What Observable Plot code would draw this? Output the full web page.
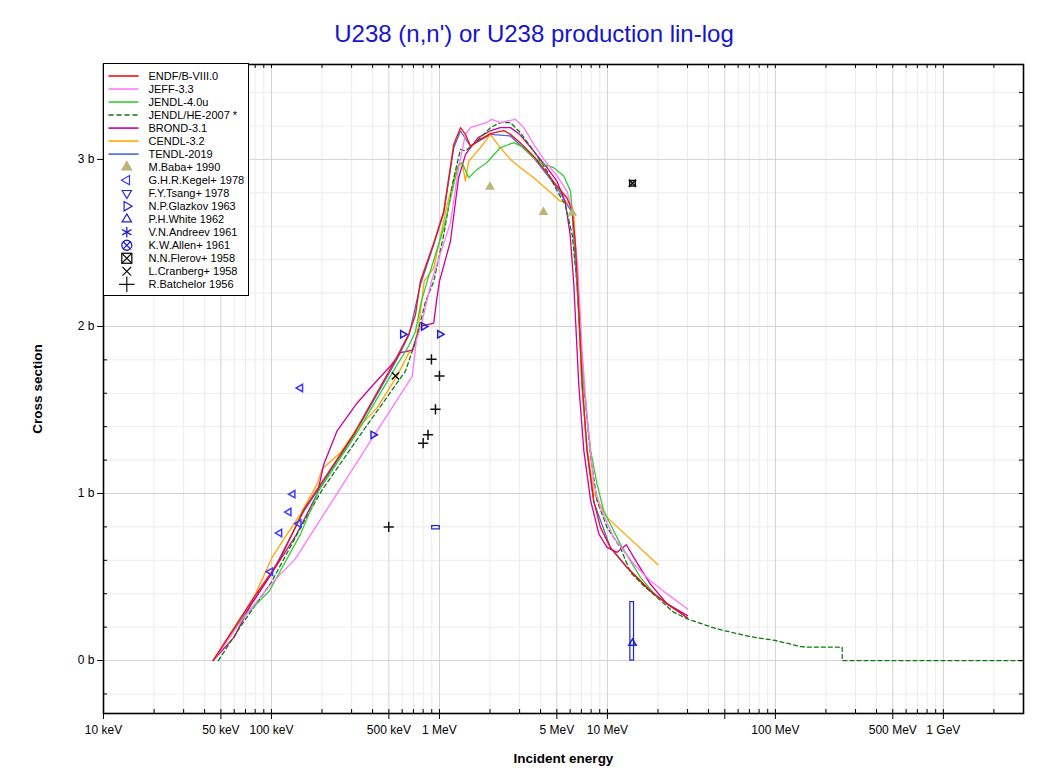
<!DOCTYPE html>
<html><head><meta charset="utf-8">
<script src="https://cdn.jsdelivr.net/npm/d3@7"></script>
<script src="https://cdn.jsdelivr.net/npm/@observablehq/plot@0.6"></script>
<style>
body{margin:0;background:#fff;font-family:"Liberation Sans",Arial,sans-serif;}
#wrap{position:relative;width:1053px;height:774px;}
#title{position:absolute;left:0;top:19px;width:1068px;text-align:center;font-size:24px;color:#1414cc;line-height:30px;font-family:"Liberation Sans",Arial,sans-serif;}
#chart{position:absolute;left:0;top:0;}
</style></head><body>
<div id="wrap"><div id="chart"></div><div id="title">U238 (n,n') or U238 production lin-log</div></div>
<script>
// ---- axis ticks ----
const xTickVals = [1e4,5e4,1e5,5e5,1e6,5e6,1e7,1e8,5e8,1e9];
const xTickLabels = ["10 keV","50 keV","100 keV","500 keV","1 MeV","5 MeV","10 MeV","100 MeV","500 MeV","1 GeV"];
const yTickVals = [0,1,2,3];
const yTickLabels = ["0 b","1 b","2 b","3 b"];

// ---- evaluated data: [energy (eV), cross section (b)] ----
const endf = [[44900,0],[78600,0.378],[100000,0.53],[113000,0.61],[155000,0.90],[309000,1.355],[547000,1.80],[656000,1.953],[720000,2.07],[770000,2.27],[925000,2.50],[1061000,2.69],[1217000,3.09],[1334000,3.19],[1428000,3.15],[1530000,3.078],[1754000,3.12],[2012000,3.154],[2415000,3.172],[2647000,3.15],[3035000,3.098],[3640000,3.019],[4375000,2.919],[5020000,2.839],[5750000,2.769],[6170000,2.69],[6450000,2.49],[6750000,2.10],[7070000,1.654],[7570000,1.255],[8290000,0.956],[9080000,0.797],[10420000,0.677],[13090000,0.558],[18000000,0.418],[22650000,0.339],[30000000,0.255]];
const jeff = [[44900,0],[70000,0.27],[100000,0.46],[139000,0.61],[413000,1.355],[688000,1.70],[730000,1.92],[780000,2.01],[896000,2.27],[1000000,2.42],[1163000,2.62],[1300000,2.95],[1428000,3.15],[1530000,3.19],[1754000,3.21],[1910000,3.22],[2050000,3.24],[2300000,3.22],[2830000,3.24],[3180000,3.19],[3640000,3.09],[4190000,3.0],[5020000,2.9],[5750000,2.81],[6170000,2.69],[6660000,2.35],[7070000,1.853],[7570000,1.454],[8290000,1.055],[9080000,0.916],[10900000,0.737],[14340000,0.578],[18000000,0.478],[22650000,0.399],[30000000,0.309]];
const jendl4 = [[44900,0],[65400,0.239],[97300,0.418],[149000,0.757],[191000,1.016],[319000,1.355],[547000,1.753],[656000,1.883],[720000,1.97],[780000,2.15],[845000,2.27],[1061000,2.59],[1217000,2.85],[1300000,2.97],[1365000,2.98],[1494000,2.89],[1676000,2.94],[1910000,2.98],[2300000,3.07],[2770000,3.10],[3180000,3.07],[3640000,3.01],[4190000,2.97],[4790000,2.95],[5500000,2.90],[6030000,2.81],[6170000,2.69],[6450000,2.45],[6750000,2.05],[7230000,1.65],[7950000,1.255],[8680000,1.056],[9500000,0.897],[11940000,0.697],[15710000,0.498],[20000000,0.375]];
const jendlhe = [[48300,0],[65000,0.2],[100000,0.47],[150000,0.80],[200000,1.02],[340000,1.355],[628000,1.733],[720000,1.91],[827000,2.15],[925000,2.27],[1061000,2.55],[1217000,2.89],[1334000,3.06],[1428000,3.05],[1676000,3.11],[2012000,3.19],[2300000,3.22],[2647000,3.22],[3035000,3.16],[3640000,3.05],[4375000,2.93],[5020000,2.81],[5600000,2.73],[6170000,2.55],[6600000,2.25],[6900000,1.95],[7230000,1.654],[7950000,1.215],[8680000,0.956],[9950000,0.797],[11940000,0.677],[13700000,0.528],[16440000,0.448],[20200000,0.369],[24800000,0.289],[30000000,0.249],[45000000,0.189],[71000000,0.143],[100000000,0.12],[141000000,0.084],[155000000,0.08],[250000000,0.08],[250000001,0],[3000000000,0]];
const brond = [[44900,0],[60000,0.14],[75000,0.33],[100000,0.52],[140000,0.75],[187000,0.996],[205000,1.175],[246000,1.375],[319000,1.534],[406000,1.654],[511000,1.763],[585000,1.843],[656000,1.853],[690000,1.86],[770000,2.0],[925000,2.02],[960000,2.15],[1000000,2.27],[1163000,2.51],[1300000,2.89],[1430000,3.03],[1700000,3.13],[2000000,3.17],[2300000,3.19],[2650000,3.19],[3000000,3.15],[3640000,3.05],[4375000,2.95],[5000000,2.87],[5600000,2.75],[6000000,2.55],[6310000,2.25],[6750000,1.654],[7240000,1.255],[7950000,0.956],[8900000,0.757],[9950000,0.677],[11420000,0.648],[12970000,0.693],[14340000,0.618],[18000000,0.458],[22650000,0.339],[30000000,0.269]];
const cendl = [[44900,0],[78600,0.378],[101000,0.618],[118400,0.727],[149000,0.877],[187000,1.056],[200000,1.146],[258000,1.245],[316000,1.375],[426000,1.514],[560000,1.704],[656000,1.84],[700000,1.86],[753000,2.01],[784000,2.15],[810000,2.27],[925000,2.35],[1100000,2.71],[1270000,2.95],[1365000,2.98],[1428000,2.87],[1494000,2.99],[1754000,3.07],[2012000,3.15],[2300000,3.07],[2647000,3.0],[3035000,2.95],[3640000,2.89],[4375000,2.82],[5250000,2.75],[6030000,2.74],[6300000,2.69],[6600000,2.3],[7000000,1.7],[7500000,1.3],[8300000,1.0],[9950000,0.857],[20000000,0.574]];
const tendl = [[44900,0],[80000,0.37],[100000,0.52],[155000,0.89],[310000,1.35],[550000,1.79],[660000,1.95],[770000,2.25],[925000,2.49],[1061000,2.68],[1217000,3.07],[1334000,3.17],[1530000,3.08],[2012000,3.15],[2647000,3.14],[3640000,3.01],[5020000,2.83],[6170000,2.68],[6750000,2.10],[7070000,1.65],[7570000,1.25],[8290000,0.95],[10420000,0.675],[13090000,0.555],[18000000,0.415],[30000000,0.255]];

// ---- experimental data: [energy (eV), cross section (b)] ----
const baba = [[2000000,2.835],[4160000,2.684],[6170000,2.68]];
const kegel = [[98600,0.532],[111700,0.763],[126800,0.889],[133900,0.996],[145400,0.82],[148700,1.632]];
const glazkov = [[403000,1.351],[605000,1.953],[807000,2.0],[1005000,1.953]];
const white = [[14100000,0.104]];
const flerov = [[14100000,2.857]];
const cranberg = [[547000,1.704]];
const batchelor = [[499000,0.80],[800000,1.301],[855000,1.351],[896000,1.803],[947000,1.504],[1000000,1.704]];
// error boxes: [E low, E high, sigma low, sigma high]
const errBoxes = [[13700000,14400000,0,0.35],[905000,1004000,0.785,0.805]];

// ---- legend ----
const legendNames = ["ENDF/B-VIII.0","JEFF-3.3","JENDL-4.0u","JENDL/HE-2007 *","BROND-3.1","CENDL-3.2","TENDL-2019","M.Baba+ 1990","G.H.R.Kegel+ 1978","F.Y.Tsang+ 1978","N.P.Glazkov 1963","P.H.White 1962","V.N.Andreev 1961","K.W.Allen+ 1961","N.N.Flerov+ 1958","L.Cranberg+ 1958","R.Batchelor 1956"];
const legendColors = ["#ee1111","#ff77ff","#33cc33","#117711","#cc0099","#ffa500","#4169e1","#bbb477","#3a3aff","#2a2add","#2222cc","#2222cc","#2222cc","#2222cc","#111111","#111111","#111111"];

const series = [
  {data: tendl, color: legendColors[6]},
  {data: cendl, color: legendColors[5]},
  {data: brond, color: legendColors[4]},
  {data: jendlhe, color: legendColors[3], dash: "4,3"},
  {data: jendl4, color: legendColors[2]},
  {data: jeff, color: legendColors[1]},
  {data: endf, color: legendColors[0]}
];

// tick/grid helpers
const minorX = [];
for (let n = 4; n <= 9; n++) for (let k = 1; k <= 9; k++) { const v = k * 10 ** n; if (v <= 3e9) minorX.push(v); }
const isMajorX = v => { const k = Math.round(v / 10 ** Math.floor(Math.log10(v) + 1e-9)); return k === 1 || k === 5; };
const gridXMajor = minorX.filter(isMajorX);
const gridXMinor = minorX.filter(v => !isMajorX(v));
const minorY = d3.range(-1, 18).map(i => i / 5);
const gridYMinor = minorY.filter(v => Math.abs(v - Math.round(v)) > 1e-9);
const xLabels = xTickVals.map((v, i) => ({v, label: xTickLabels[i]}));
const yLabels = yTickVals.map((v, i) => ({v, label: yTickLabels[i]}));

const FH = 713 - 64, FW = 1023 - 103;
const font = "Liberation Sans, Arial, sans-serif";

const marks = [
  Plot.gridX(gridXMinor, {stroke: "#ececec", strokeOpacity: 1}),
  Plot.gridY(gridYMinor, {stroke: "#ececec", strokeOpacity: 1}),
  Plot.gridX(gridXMajor, {stroke: "#d2d2d2", strokeOpacity: 1}),
  Plot.gridY(yTickVals, {stroke: "#d2d2d2", strokeOpacity: 1}),
  ...series.map(s => Plot.line(s.data, {x: d => d[0], y: d => d[1], stroke: s.color, strokeWidth: 1.3, strokeDasharray: s.dash || null})),
  Plot.rect(errBoxes, {x1: d => d[0], x2: d => d[1], y1: d => d[2], y2: d => d[3], fill: "none", stroke: "#2222cc", strokeWidth: 1.2}),
  Plot.dot(baba, {x: d => d[0], y: d => d[1], symbol: "triangle", fill: legendColors[7], r: 3.6}),
  Plot.dot(kegel, {x: d => d[0], y: d => d[1], symbol: "triangle2", stroke: legendColors[8], fill: "none", r: 3.5, rotate: -90}),
  Plot.dot(glazkov, {x: d => d[0], y: d => d[1], symbol: "triangle2", stroke: legendColors[10], fill: "none", r: 3.5, rotate: 90}),
  Plot.dot(white, {x: d => d[0], y: d => d[1], symbol: "triangle2", stroke: legendColors[11], fill: "none", r: 3.5}),
  Plot.dot(flerov, {x: d => d[0], y: d => d[1], symbol: "square2", stroke: "#111", fill: "none", r: 3.6}),
  Plot.dot(flerov, {x: d => d[0], y: d => d[1], symbol: "times", stroke: "#111", r: 3.4}),
  Plot.dot(cranberg, {x: d => d[0], y: d => d[1], symbol: "times", stroke: "#111", r: 3.4}),
  Plot.dot(batchelor, {x: d => d[0], y: d => d[1], symbol: "plus", stroke: "#111", r: 3.4}),
  // ticks
  Plot.tickX(gridXMinor, {x: d => d, stroke: "#000", insetTop: FH - 4}),
  Plot.tickX(gridXMajor, {x: d => d, stroke: "#000", insetTop: FH - 4, insetBottom: -6}),
  Plot.tickX(minorX, {x: d => d, stroke: "#000", insetBottom: FH - 4}),
  Plot.tickY(gridYMinor, {y: d => d, stroke: "#000", insetRight: FW - 4}),
  Plot.tickY(yTickVals, {y: d => d, stroke: "#000", insetRight: FW, insetLeft: -6}),
  Plot.tickY(minorY, {y: d => d, stroke: "#000", insetLeft: FW - 4}),
  Plot.text(xLabels, {x: d => d.v, text: d => d.label, frameAnchor: "bottom", lineAnchor: "top", dy: 12, fontSize: 12, fill: "#000"}),
  Plot.text(yLabels, {y: d => d.v, text: d => d.label, frameAnchor: "left", textAnchor: "end", dx: -9, fontSize: 12, fill: "#000"}),
  Plot.frame({stroke: "#000", strokeWidth: 1.6}),
  Plot.text(["Incident energy"], {text: d => d, frameAnchor: "bottom", lineAnchor: "middle", textAnchor: "middle", dy: 45, fontWeight: "bold", fontSize: 13.5}),
  Plot.text(["Cross section"], {text: d => d, frameAnchor: "left", lineAnchor: "middle", textAnchor: "middle", dx: -66, rotate: -90, fontWeight: "bold", fontSize: 13.5})
];

const chart = Plot.plot({
  width: 1053, height: 774,
  marginLeft: 103, marginRight: 30, marginTop: 64, marginBottom: 61,
  style: {fontFamily: font, fontSize: "12px", color: "#000", background: "#fff"},
  x: {type: "log", domain: [1e4, 3e9], axis: null},
  y: {domain: [-0.317, 3.568], axis: null},
  marks
});
document.getElementById("chart").appendChild(chart);

// legend box drawn inside the svg
const svg = d3.select(chart);
const lg = svg.append("g").attr("transform", "translate(103.5,63.5)").attr("text-anchor", "start");
lg.append("rect").attr("width", 145).attr("height", 232).attr("fill", "#fff").attr("stroke", "#000").attr("stroke-width", 1);
const symbolTypes = [null,null,null,null,null,null,null,"tri","left","down","right","up","ast","cx","bx","x","plus"];
legendNames.forEach((name, i) => {
  const y = 12.5 + i * 13.02;
  const c = legendColors[i];
  const g = lg.append("g");
  if (i < 7) {
    g.append("line").attr("x1", 5).attr("x2", 35).attr("y1", y).attr("y2", y).attr("stroke", c).attr("stroke-width", 1.6)
      .attr("stroke-dasharray", i === 3 ? "5,3" : null);
  } else {
    const cx = 23.3, t = symbolTypes[i];
    const sg = g.append("g").attr("transform", `translate(${cx},${y})`);
    const tri = d3.symbol(d3.symbolTriangle2, 62)();
    if (t === "tri") sg.append("path").attr("d", d3.symbol(d3.symbolTriangle, 60)()).attr("fill", c);
    else if (t === "left") sg.append("path").attr("d", tri).attr("transform", "rotate(-90)").attr("fill", "none").attr("stroke", c).attr("stroke-width", 1.2);
    else if (t === "down") sg.append("path").attr("d", tri).attr("transform", "rotate(180)").attr("fill", "none").attr("stroke", c).attr("stroke-width", 1.2);
    else if (t === "right") sg.append("path").attr("d", tri).attr("transform", "rotate(90)").attr("fill", "none").attr("stroke", c).attr("stroke-width", 1.2);
    else if (t === "up") sg.append("path").attr("d", tri).attr("fill", "none").attr("stroke", c).attr("stroke-width", 1.2);
    else if (t === "ast") sg.append("path").attr("d", d3.symbol(d3.symbolAsterisk, 80)()).attr("fill", "none").attr("stroke", c).attr("stroke-width", 1.3);
    else if (t === "cx") { sg.append("circle").attr("r", 5).attr("fill", "none").attr("stroke", c).attr("stroke-width", 1.3); sg.append("path").attr("d", d3.symbol(d3.symbolTimes, 40)()).attr("fill", "none").attr("stroke", c).attr("stroke-width", 1.3); }
    else if (t === "bx") { sg.append("rect").attr("x", -5).attr("y", -5).attr("width", 10).attr("height", 10).attr("fill", "none").attr("stroke", c).attr("stroke-width", 1.3); sg.append("path").attr("d", "M-5,-5L5,5M5,-5L-5,5").attr("stroke", c).attr("stroke-width", 1.2); }
    else if (t === "x") sg.append("path").attr("d", d3.symbol(d3.symbolTimes, 50)()).attr("fill", "none").attr("stroke", c).attr("stroke-width", 1.2);
    else if (t === "plus") sg.append("path").attr("d", d3.symbol(d3.symbolPlus, 80)()).attr("fill", "none").attr("stroke", c).attr("stroke-width", 1.2);
  }
  g.append("text").attr("x", 45).attr("y", y).attr("dy", "0.35em").attr("text-anchor", "start").attr("font-size", 11).attr("font-family", font).attr("fill", "#000").text(name);
});
</script></body></html>
